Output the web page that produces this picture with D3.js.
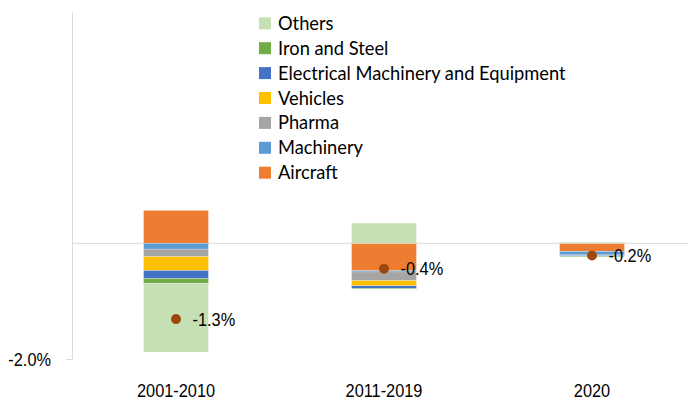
<!DOCTYPE html>
<html>
<head>
<meta charset="utf-8">
<script src="https://cdn.jsdelivr.net/npm/d3@7"></script>
<style>
  body { margin: 0; background: #fff; }
  text { fill: #000; }
  .tick-font { font-family: "Liberation Sans", Arial, sans-serif; }
  .legend-font { font-family: Lato, "Noto Sans", sans-serif; }
</style>
</head>
<body>
<div id="chart"></div>
<script>
// periods on the x axis
const categories = ["2001-2010", "2011-2019", "2020"];

// contribution of each product group, percentage points
const aircraft   = [0.57, -0.475, -0.14];
const machinery  = [-0.10, -0.02, -0.06];
const pharma     = [-0.13, -0.15, -0.01];
const vehicles   = [-0.24, -0.09, 0.00];
const electrical = [-0.14, -0.045, -0.01];
const ironSteel  = [-0.08, -0.01, -0.01];
const others     = [-1.19, 0.35, 0.02];

// net total per period (dot)
const totals = [-1.31, -0.44, -0.21];

const yTicks = [-2];

// stacking order (legend shows it reversed)
const series = [
  { key: "Aircraft", values: aircraft, color: "#ed7d31" },
  { key: "Machinery", values: machinery, color: "#5b9bd5" },
  { key: "Pharma", values: pharma, color: "#a5a5a5" },
  { key: "Vehicles", values: vehicles, color: "#ffc000" },
  { key: "Electrical Machinery and Equipment", values: electrical, color: "#4472c4" },
  { key: "Iron and Steel", values: ironSteel, color: "#70ad47" },
  { key: "Others", values: others, color: "#c5e0b4" }
];

const width = 688, height = 400;
const margin = { top: 12, right: -8, bottom: 41, left: 72 };
const fontSize = 19, squeeze = 0.86; // narrow look for the axis / label font

const pct = d => d3.format(".1f")(d).replace("\u2212", "-") + "%";

const svg = d3.select("#chart").append("svg")
  .attr("width", width)
  .attr("height", height);

const table = categories.map((c, i) => {
  const row = { cat: c };
  series.forEach(s => { row[s.key] = s.values[i]; });
  return row;
});

const stacked = d3.stack()
  .keys(series.map(s => s.key))
  .offset(d3.stackOffsetDiverging)(table);

const x = d3.scaleBand(categories, [margin.left, width - margin.right])
  .paddingInner(0.688)
  .paddingOuter(0.344);

const y = d3.scaleLinear([-2, 4], [height - margin.bottom, margin.top]);

// narrow text helper: g at position, text squeezed horizontally
function narrowText(sel, anchor) {
  sel.append("text")
    .attr("class", "tick-font")
    .attr("font-size", fontSize)
    .attr("text-anchor", anchor)
    .attr("transform", `scale(${squeeze},1)`);
  return sel.select("text");
}

// zero line
svg.append("line")
  .attr("x1", margin.left).attr("x2", width)
  .attr("y1", y(0)).attr("y2", y(0))
  .attr("stroke", "#d9d9d9").attr("stroke-width", 1);

// y axis
const yAxis = svg.append("g")
  .attr("transform", `translate(${margin.left},0)`)
  .call(d3.axisLeft(y).tickValues(yTicks).tickSize(6).tickSizeOuter(0).tickFormat(""));
yAxis.select(".domain").attr("stroke", "#d9d9d9");
yAxis.selectAll(".tick line").attr("stroke", "#d9d9d9");

svg.append("g").selectAll("g")
  .data(yTicks)
  .join("g")
  .attr("transform", d => `translate(${margin.left - 21},${y(d) + 6.5})`)
  .each(function(d) { narrowText(d3.select(this), "end").text(pct(d)); });

// bars
const colorOf = d3.scaleOrdinal(series.map(s => s.key), series.map(s => s.color));

svg.append("g").selectAll("g")
  .data(stacked)
  .join("g")
  .attr("fill", d => colorOf(d.key))
  .selectAll("rect")
  .data(d => d)
  .join("rect")
  .attr("x", d => x(d.data.cat))
  .attr("width", x.bandwidth())
  .attr("y", d => y(Math.max(d[0], d[1])))
  .attr("height", d => Math.abs(y(d[0]) - y(d[1])))
  .attr("stroke", "#fff")
  .attr("stroke-width", 0.4)
  .attr("stroke-opacity", 0.6);

// total dots + labels
const dots = svg.append("g").selectAll("g")
  .data(totals)
  .join("g")
  .attr("transform", (d, i) => `translate(${x(categories[i]) + x.bandwidth() / 2},${y(d)})`);

dots.append("circle")
  .attr("r", 5)
  .attr("fill", "#9e480e");

dots.append("g")
  .attr("transform", "translate(16.5,6.5)")
  .each(function(d) { narrowText(d3.select(this), "start").text(pct(d)); });

// x labels
svg.append("g").selectAll("g")
  .data(categories)
  .join("g")
  .attr("transform", d => `translate(${x(d) + x.bandwidth() / 2},397)`)
  .each(function(d) { narrowText(d3.select(this), "middle").text(d); });

// legend
const legend = svg.append("g").selectAll("g")
  .data(series.slice().reverse())
  .join("g")
  .attr("transform", (d, i) => `translate(259,${23.3 + i * 24.9})`);

legend.append("rect")
  .attr("y", -6)
  .attr("width", 12)
  .attr("height", 12)
  .attr("fill", d => d.color);

legend.append("text")
  .attr("class", "legend-font")
  .attr("x", 19)
  .attr("y", 6.5)
  .attr("font-size", 18.3)
  .text(d => d.key);
</script>
</body>
</html>
